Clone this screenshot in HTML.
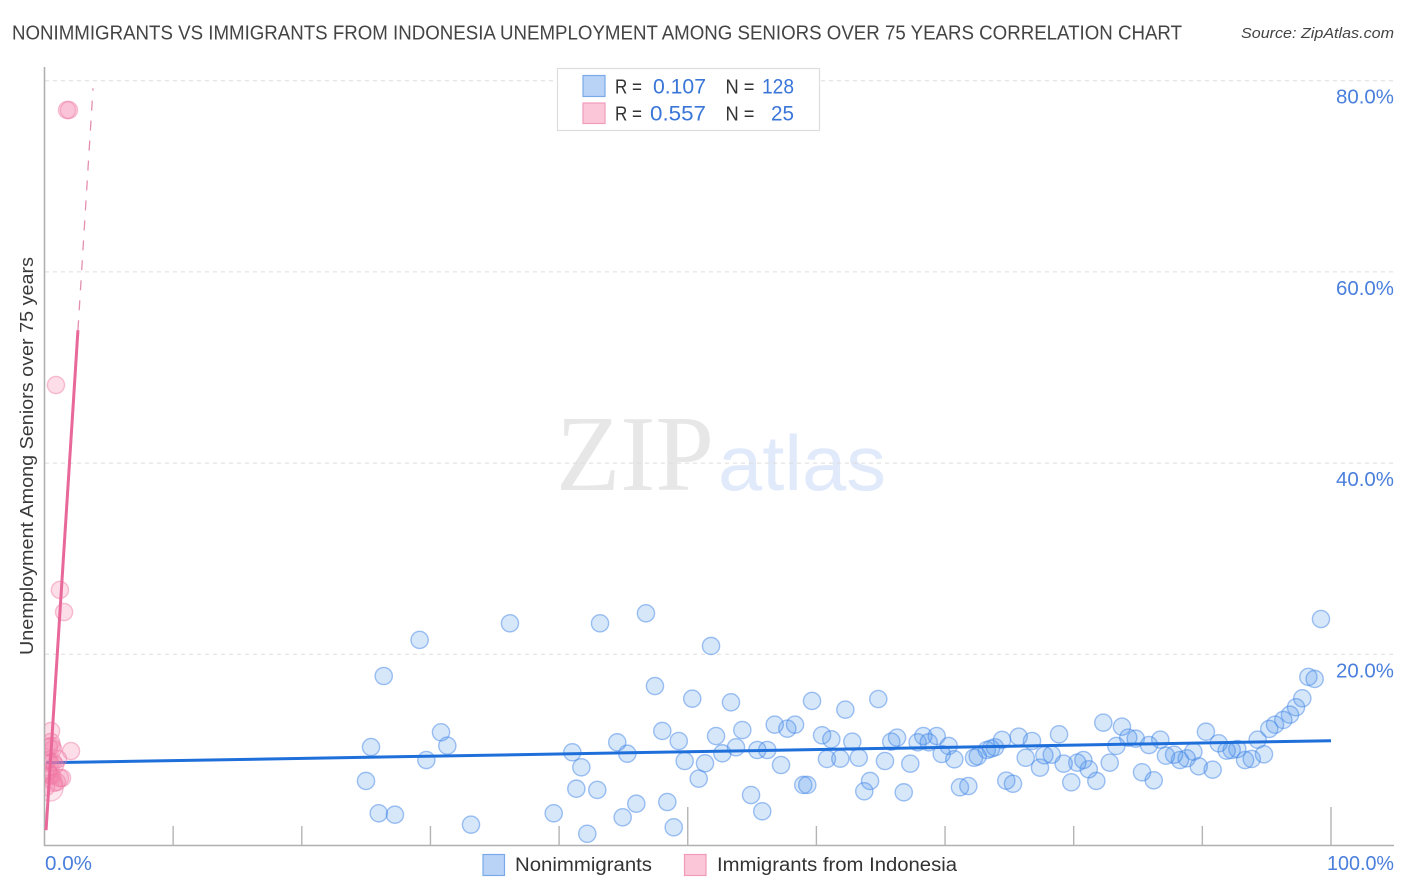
<!DOCTYPE html>
<html lang="en">
<head>
<meta charset="utf-8">
<title>Nonimmigrants vs Immigrants from Indonesia Correlation Chart</title>
<style>
  html, body { margin: 0; padding: 0; background: #fff; }
  svg { display: block; font-family: "Liberation Sans", sans-serif; }
</style>
</head>
<body>
<svg id="chart" xmlns="http://www.w3.org/2000/svg" width="1406" height="892" viewBox="0 0 1406 892">
  <defs>
    <clipPath id="plot-clip"><rect x="45" y="60" width="1349" height="786"/></clipPath>
  </defs>
  <rect x="0" y="0" width="1406" height="892" fill="#ffffff"/>
  <text x="12" y="39.5" font-size="20" fill="#444444" textLength="1170" lengthAdjust="spacingAndGlyphs">NONIMMIGRANTS VS IMMIGRANTS FROM INDONESIA UNEMPLOYMENT AMONG SENIORS OVER 75 YEARS CORRELATION CHART</text>
  <text x="1241" y="38" font-size="15" font-style="italic" fill="#444444" textLength="153" lengthAdjust="spacingAndGlyphs">Source: ZipAtlas.com</text>
  <g id="watermark">
    <text x="556" y="490" font-family="'Liberation Serif', serif" font-size="108" fill="#e7e7e7" textLength="158" lengthAdjust="spacingAndGlyphs">ZIP</text>
    <text x="718" y="490" font-size="78" fill="#e0eafa" textLength="168" lengthAdjust="spacingAndGlyphs">atlas</text>
  </g>
  <g id="grid"></g>
  <g id="axes"></g>
  <text x="0" y="0" transform="translate(33 655) rotate(-90)" font-size="18.5" fill="#3a3a3a" textLength="398" lengthAdjust="spacingAndGlyphs">Unemployment Among Seniors over 75 years</text>
  <g id="points-blue"></g>
  <g id="trend-blue"></g>
  <g id="points-pink" clip-path="url(#plot-clip)"></g>
  <g id="trend-pink"></g>
  <g id="tick-labels"></g>

  <g>
    <rect x="557.5" y="68.5" width="262" height="62" fill="#ffffff" stroke="#dddddd" stroke-width="1.2"/>
    <rect x="583" y="75.5" width="22" height="21" fill="#b9d3f7" stroke="#7aaae8" stroke-width="1.2"/>
    <rect x="583" y="103" width="22" height="20.5" fill="#fcc6d9" stroke="#f19ab9" stroke-width="1.2"/>
    <g font-size="20" fill="#333333">
      <text x="615" y="93.5" textLength="27" lengthAdjust="spacingAndGlyphs">R =</text>
      <text x="725.5" y="93.5" textLength="29" lengthAdjust="spacingAndGlyphs">N =</text>
      <text x="615" y="120.5" textLength="27" lengthAdjust="spacingAndGlyphs">R =</text>
      <text x="725.5" y="120.5" textLength="29" lengthAdjust="spacingAndGlyphs">N =</text>
    </g>
    <g font-size="21" fill="#3a76d8">
      <text x="653" y="93.5" textLength="53" lengthAdjust="spacingAndGlyphs">0.107</text>
      <text x="762" y="93.5" textLength="32" lengthAdjust="spacingAndGlyphs">128</text>
      <text x="650" y="120.5" textLength="56" lengthAdjust="spacingAndGlyphs">0.557</text>
      <text x="771" y="120.5" textLength="23" lengthAdjust="spacingAndGlyphs">25</text>
    </g>
  </g>

  <g>
    <rect x="483" y="854.5" width="21.5" height="21" fill="#b9d3f7" stroke="#7aaae8" stroke-width="1.2"/>
    <text x="515" y="871" font-size="19" fill="#333333" textLength="137" lengthAdjust="spacingAndGlyphs">Nonimmigrants</text>
    <rect x="684.5" y="854.5" width="21.5" height="21" fill="#fcc6d9" stroke="#f19ab9" stroke-width="1.2"/>
    <text x="717" y="871" font-size="19" fill="#333333" textLength="240" lengthAdjust="spacingAndGlyphs">Immigrants from Indonesia</text>
  </g>
</svg>
<script>
// Chart data (percent values)
const blueX = [29.16,36.18,43.18,46.75,51.81,26.37,47.45,50.35,53.36,25.38,30.82,31.31,29.68,41.03,41.73,44.52,45.30,48.02,49.30,49.76,51.34,50.85,52.20,52.69,53.75,54.24,24.99,25.98,27.24,33.15,39.58,42.19,41.34,42.97,46.00,44.94,48.41,48.91,59.66,62.25,64.81,56.76,57.74,58.34,60.44,61.16,62.79,65.82,66.27,67.87,68.31,68.73,69.35,70.28,69.74,70.72,74.43,73.88,73.24,73.57,72.54,72.25,75.72,76.76,76.27,77.38,55.41,56.18,57.25,60.82,61.86,63.29,65.33,67.30,54.92,55.79,58.98,59.29,64.17,63.72,66.79,71.16,71.81,74.76,75.28,99.22,98.24,98.73,97.77,97.28,96.81,96.29,95.65,95.20,94.30,94.79,93.84,93.32,92.72,92.28,91.89,91.27,90.28,90.80,89.72,89.30,88.78,88.26,87.80,87.17,86.73,85.85,84.82,84.24,83.75,83.31,82.30,82.80,86.22,85.31,81.76,81.17,80.75,80.28,79.81,79.22,78.86,78.29,77.72];
const blueY = [21.50,23.24,23.24,24.29,20.87,17.73,16.68,15.36,14.98,10.30,11.84,10.44,8.94,9.75,8.18,10.79,9.60,11.98,10.93,8.84,8.60,6.99,11.45,9.64,10.27,12.08,6.75,3.37,3.22,2.18,3.37,1.23,5.94,5.81,4.37,2.95,4.55,1.90,15.12,14.21,15.32,12.64,12.22,12.64,11.53,11.11,10.86,10.86,11.28,10.79,11.45,10.79,11.45,10.41,9.57,9.02,11.04,10.27,9.99,10.13,9.33,9.18,11.38,10.93,9.18,8.14,9.99,9.99,8.42,9.05,9.08,9.18,8.84,8.56,5.28,3.58,6.33,6.33,6.75,5.67,5.56,6.09,6.22,6.78,6.46,23.69,17.63,17.42,15.40,14.46,13.68,13.13,12.64,12.19,11.07,9.54,9.05,8.94,10.09,9.99,9.92,10.69,11.90,7.93,8.28,9.81,9.12,8.94,9.50,9.39,11.07,10.51,11.17,11.28,12.43,10.41,12.85,8.66,6.82,7.66,6.75,7.97,8.94,8.66,6.61,8.56,11.63,9.50,9.44];
const pinkX = [1.75,1.90,0.89,1.20,1.52,0.51,2.06,0.51,0.58,0.35,0.66,0.27,1.05,0.66,0.43,0.82,0.27,0.58,1.20,1.36,0.97,0.74,0.43,0.12];
const pinkY = [76.93,76.93,48.17,26.73,24.42,11.98,9.88,10.83,10.41,10.30,10.09,8.94,9.05,8.73,8.63,8.42,7.69,7.28,7.06,7.06,6.64,6.54,7.37,6.12];
const pinkLargeX = [0.43];
const pinkLargeY = [6.01];
const blueTrendX = [0.12, 100];
const blueTrendY = [8.65, 10.96];
const pinkTrendSolidX = [0.12, 2.6];
const pinkTrendSolidY = [1.6, 53.9];
const pinkTrendDashX = [2.6, 3.77];
const pinkTrendDashY = [53.9, 79.2];
const yGridValues = [20, 40, 60, 80];
const xTickValues = [10, 20, 30, 40, 50, 60, 70, 80, 90, 100];
const xTallTicks = [50, 100];
const yTickLabels = ["20.0%", "40.0%", "60.0%", "80.0%"];
const xMinLabel = "0.0%";
const xMaxLabel = "100.0%";

const NS = "http://www.w3.org/2000/svg";
const sx = v => 44.5 + v * 12.865;
const sy = v => 845.5 - v * 9.56;
const make = (tag, parent, attrs) => {
  const el = document.createElementNS(NS, tag);
  for (const k in attrs) el.setAttribute(k, attrs[k]);
  document.getElementById(parent).appendChild(el);
  return el;
};

// Gridlines
yGridValues.forEach(v => {
  const el = make("line", "grid", { x1: 45, x2: 1394, y1: sy(v), y2: sy(v), stroke: "#dddddd", "stroke-width": 1, "stroke-dasharray": "4 4" });
  
  
});

// Axes and ticks
const yAxis = make("line", "axes", { x1: 44.5, x2: 44.5, y1: 67, y2: 846, stroke: "#b0b0b0", "stroke-width": 1.6 });


const xAxis = make("line", "axes", { x1: 44, x2: 1394, y1: 845.5, y2: 845.5, stroke: "#b0b0b0", "stroke-width": 1.6 });


xTickValues.forEach(v => {
  const top = xTallTicks.includes(v) ? 807 : 826;
  const el = make("line", "axes", { x1: sx(v), x2: sx(v), y1: top, y2: 845.5, stroke: "#b4b4b4", "stroke-width": 1.4 });
  
  
});

// Blue points
blueX.forEach((x, i) => {
  const el = make("circle", "points-blue", { cx: sx(x), cy: sy(blueY[i]), r: 8.6, fill: "rgba(74,144,233,0.22)", stroke: "rgba(60,130,230,0.48)", "stroke-width": 1.4 });
  
  
});

// Blue trend
const bt = make("line", "trend-blue", { x1: sx(blueTrendX[0]), y1: sy(blueTrendY[0]), x2: sx(blueTrendX[1]), y2: sy(blueTrendY[1]), stroke: "#1f6fdb", "stroke-width": 3 });



// Pink points
pinkX.forEach((x, i) => {
  const el = make("circle", "points-pink", { cx: sx(x), cy: sy(pinkY[i]), r: 8.6, fill: "rgba(244,120,165,0.25)", stroke: "rgba(238,120,165,0.45)", "stroke-width": 1.4 });
  
  
});
pinkLargeX.forEach((x, i) => {
  const el = make("circle", "points-pink", { cx: sx(x), cy: sy(pinkLargeY[i]), r: 13, fill: "rgba(244,120,165,0.18)", stroke: "rgba(238,120,165,0.4)", "stroke-width": 1.4 });
  
  
});

// Pink trend
const pts = make("line", "trend-pink", { x1: sx(pinkTrendSolidX[0]), y1: sy(pinkTrendSolidY[0]), x2: sx(pinkTrendSolidX[1]), y2: sy(pinkTrendSolidY[1]), stroke: "#e8689a", "stroke-width": 3 });


const ptd = make("line", "trend-pink", { x1: sx(pinkTrendDashX[0]), y1: sy(pinkTrendDashY[0]), x2: sx(pinkTrendDashX[1]), y2: sy(pinkTrendDashY[1]), stroke: "#e48fb0", "stroke-width": 1.3, "stroke-dasharray": "10 10" });



// Tick labels
const tickFill = "#4a7fdc";
yTickLabels.forEach((label, i) => {
  const el = make("text", "tick-labels", { x: 1336, y: sy(yGridValues[i]) + 23, "font-size": 20, fill: tickFill, textLength: 58, lengthAdjust: "spacingAndGlyphs" });
  el.textContent = label;
  
  
});
const xMin = make("text", "tick-labels", { x: 45, y: 870, "font-size": 20, fill: tickFill, textLength: 47, lengthAdjust: "spacingAndGlyphs" });
xMin.textContent = xMinLabel;


const xMax = make("text", "tick-labels", { x: 1327, y: 870, "font-size": 20, fill: tickFill, textLength: 67, lengthAdjust: "spacingAndGlyphs" });
xMax.textContent = xMaxLabel;


</script>
</body>
</html>
